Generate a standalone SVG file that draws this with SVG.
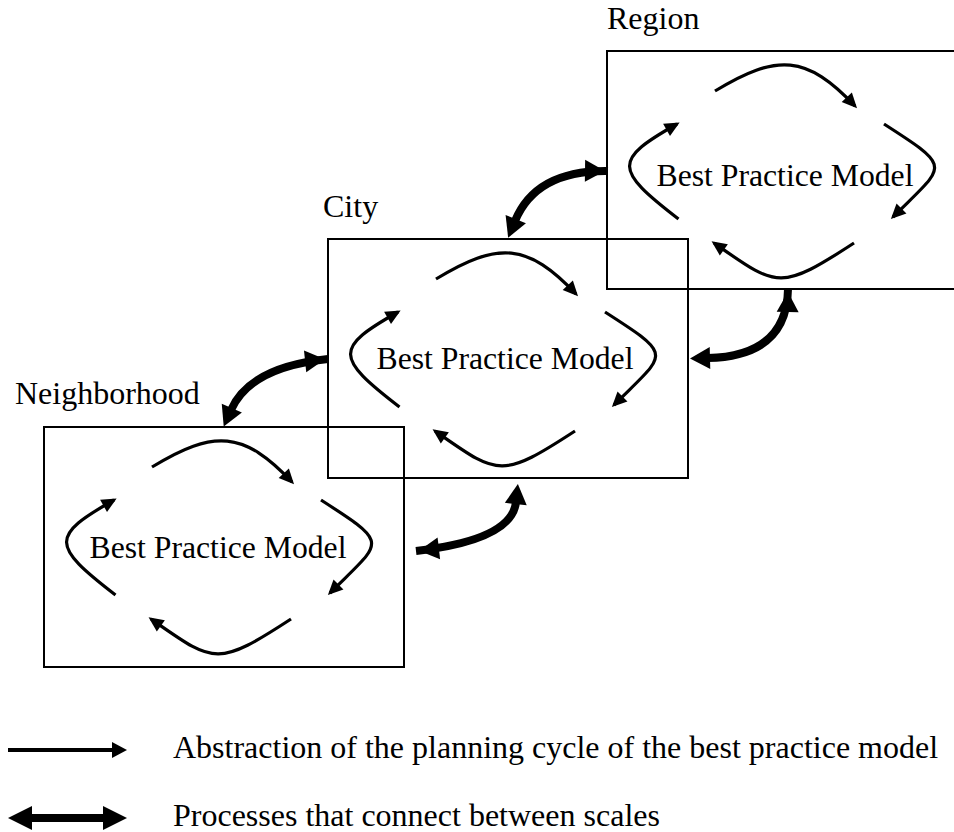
<svg xmlns="http://www.w3.org/2000/svg" xmlns:xlink="http://www.w3.org/1999/xlink" width="954" height="832" viewBox="0 0 954 832">
  <style>
    .box { fill: none; stroke: #000; stroke-width: 2; }
    .label { font-family: "Liberation Serif", "Times New Roman", serif; font-size: 32px; fill: #000; }
    .model { font-family: "Liberation Serif", "Times New Roman", serif; font-size: 31.7px; fill: #000; text-anchor: middle; }
    .cyc { fill: none; stroke: #000; stroke-width: 3.2; marker-end: url(#thin); }
    .link { fill: none; stroke: #000; stroke-width: 8; }
  </style>
  <defs>
    <!-- small head for the planning-cycle arrows -->
    <marker id="thin" markerUnits="userSpaceOnUse" markerWidth="15" markerHeight="14" refX="12" refY="7" orient="auto" overflow="visible">
      <path d="M0,0 L15,7 L0,14 z" fill="#000"/>
    </marker>
    <!-- heavy heads for the between-scale links -->
    <marker id="sharp" markerUnits="userSpaceOnUse" markerWidth="20" markerHeight="22" refX="2" refY="11" orient="auto-start-reverse" overflow="visible">
      <path d="M0,0 L20,11 L0,22 z" fill="#000"/>
    </marker>
    <marker id="stub" markerUnits="userSpaceOnUse" markerWidth="20" markerHeight="22" refX="23" refY="11" orient="auto-start-reverse" overflow="visible">
      <path d="M0,0 L20,11 L0,22 z" fill="#000"/>
    </marker>
    <marker id="keyThin" markerUnits="userSpaceOnUse" markerWidth="15" markerHeight="16" refX="2" refY="8" orient="auto" overflow="visible">
      <path d="M0,0 L15,8 L0,16 z" fill="#000"/>
    </marker>
    <marker id="keyThick" markerUnits="userSpaceOnUse" markerWidth="24" markerHeight="24" refX="2" refY="12" orient="auto-start-reverse" overflow="visible">
      <path d="M0,0 L24,12 L0,24 z" fill="#000"/>
    </marker>
    <!-- four-step cycle, drawn relative to a box's top-left corner -->
    <g id="cycle">
      <path class="cyc" d="M108,40 C170,2 200,4 248,55"/>
      <path class="cyc" d="M277,73 C347,118 339,113 286,166"/>
      <path class="cyc" d="M247,192 C172,241 170,236 107,192"/>
      <path class="cyc" d="M71.5,168 C6.5,118 6.5,109 70,73"/>
    </g>
  </defs>

  <g id="region">
    <rect class="box" x="607" y="51" width="360" height="238"/>
    <text class="label" x="607" y="29">Region</text>
    <use xlink:href="#cycle" href="#cycle" transform="translate(607,51)"/>
    <text class="model" x="785" y="186">Best Practice Model</text>
  </g>

  <g id="city">
    <rect class="box" x="328" y="239" width="360" height="239"/>
    <text class="label" x="323" y="217">City</text>
    <use xlink:href="#cycle" href="#cycle" transform="translate(328,239)"/>
    <text class="model" x="505" y="369">Best Practice Model</text>
  </g>

  <g id="neighborhood">
    <rect class="box" x="44" y="427" width="360" height="240"/>
    <text class="label" x="15" y="404">Neighborhood</text>
    <use xlink:href="#cycle" href="#cycle" transform="translate(44,427)"/>
    <text class="model" x="218" y="558">Best Practice Model</text>
  </g>

  <g id="connectors">
    <path class="link" d="M515,221 Q536,170 608,171" marker-start="url(#sharp)" marker-end="url(#stub)"/>
    <path class="link" d="M708,358 Q787,356 788,289" marker-start="url(#sharp)" marker-end="url(#stub)"/>
    <path class="link" d="M231,410 Q250,367 328,359" marker-start="url(#sharp)" marker-end="url(#stub)"/>
    <path class="link" d="M416,551 Q512,540 516,502" marker-start="url(#stub)" marker-end="url(#sharp)"/>
  </g>

  <g id="legend">
    <path d="M8,750 L114,750" fill="none" stroke="#000" stroke-width="4" marker-end="url(#keyThin)"/>
    <text class="label" x="173" y="758">Abstraction of the planning cycle of the best practice model</text>
    <path d="M30,818 L105,818" fill="none" stroke="#000" stroke-width="8" marker-start="url(#keyThick)" marker-end="url(#keyThick)"/>
    <text class="label" x="173" y="826">Processes that connect between scales</text>
  </g>
</svg>
